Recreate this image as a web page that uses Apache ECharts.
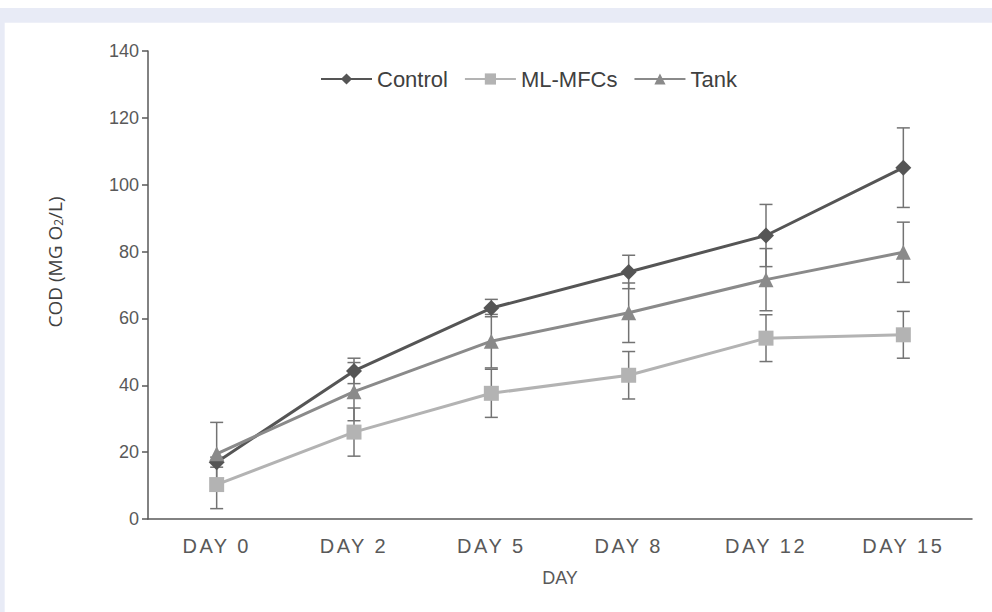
<!DOCTYPE html>
<html><head><meta charset="utf-8">
<script src="https://cdn.jsdelivr.net/npm/echarts@6/dist/echarts.min.js"></script>
<style>html,body{margin:0;padding:0;background:#fff}#c{width:992px;height:612px}</style>
</head><body><div id="c"></div>
<script>
// ---- data ----
const categories = ['DAY 0', 'DAY 2', 'DAY 5', 'DAY 8', 'DAY 12', 'DAY 15'];
const seriesNames = ['Control', 'ML-MFCs', 'Tank'];
const control    = [17.0, 44.3, 63.1, 73.9, 84.8, 105.1];
const controlErr = [1.5, 3.8, 2.6, 5.0, 9.3, 11.9];
const mlmfcs     = [10.3, 26.0, 37.6, 43.0, 54.1, 55.1];
const mlmfcsErr  = [7.2, 7.2, 7.2, 7.1, 7.0, 7.0];
const tank       = [19.5, 38.1, 53.2, 61.7, 71.6, 79.8];
const tankErr    = [9.4, 8.7, 8.0, 8.9, 9.3, 9.0];
const yTicks = [0, 20, 40, 60, 80, 100, 120, 140];

const chart = echarts.init(document.getElementById('c'), null, {renderer: 'svg', width: 992, height: 612});

function errData(vals, errs) { return vals.map((v, i) => [i, v - errs[i], v + errs[i]]); }
function errSeries(name, vals, errs) {
  return {
    type: 'custom', name: name + ' error', data: errData(vals, errs), z: 1, silent: true,
    encode: {x: 0, y: [1, 2]},
    renderItem(params, api) {
      const x = api.value(0);
      const lo = api.coord([x, api.value(1)]);
      const hi = api.coord([x, api.value(2)]);
      const hw = 6.5;
      const style = {stroke: '#737373', lineWidth: 1.5, fill: null};
      return {type: 'group', children: [
        {type: 'line', shape: {x1: lo[0], y1: lo[1], x2: hi[0], y2: hi[1]}, style},
        {type: 'line', shape: {x1: lo[0] - hw, y1: lo[1], x2: lo[0] + hw, y2: lo[1]}, style},
        {type: 'line', shape: {x1: hi[0] - hw, y1: hi[1], x2: hi[0] + hw, y2: hi[1]}, style}
      ]};
    }
  };
}
function lineSeries(name, vals, color, symbol, size) {
  return {
    type: 'line', name, data: vals, z: 3, symbol, symbolSize: size,
    lineStyle: {color, width: 3}, itemStyle: {color, borderWidth: 0},
    emphasis: {disabled: true}
  };
}
const axisColor = '#595959';
const font = 'Liberation Sans, Arial, sans-serif';

chart.setOption({
  animation: false,
  backgroundColor: '#ffffff',
  grid: {left: 148, right: 20, top: 51, bottom: 93, containLabel: false, outerBoundsMode: 'none'},
  legend: {
    data: seriesNames, left: 320, top: 68, padding: 0,
    itemWidth: 51, itemHeight: 14, itemGap: 16,
    textStyle: {fontSize: 22, color: '#404040', fontFamily: font}
  },
  xAxis: {
    type: 'category', data: categories, boundaryGap: true,
    axisLine: {lineStyle: {color: axisColor, width: 1.5}},
    axisTick: {alignWithLabel: true, length: 5, lineStyle: {color: axisColor, width: 1.5}},
    axisLabel: {fontSize: 20, color: axisColor, fontFamily: font, margin: 17},
    name: 'DAY', nameLocation: 'middle', nameGap: 50,
    nameTextStyle: {fontSize: 18, color: axisColor, fontFamily: font}
  },
  yAxis: {
    type: 'value', min: yTicks[0], max: yTicks[yTicks.length - 1], interval: yTicks[1] - yTicks[0],
    axisLine: {show: true, lineStyle: {color: axisColor, width: 1.5}},
    axisTick: {show: true, length: 6, lineStyle: {color: axisColor, width: 1.5}},
    axisLabel: {fontSize: 18, color: axisColor, fontFamily: font, margin: 9},
    splitLine: {show: false}
  },
  graphic: [
    {type: 'rect', silent: true, z: -10, shape: {x: 0, y: 8, width: 992, height: 14.7}, style: {fill: '#e8ebf6'}},
    {type: 'rect', silent: true, z: -10, shape: {x: 0, y: 8, width: 4.7, height: 604}, style: {fill: '#e8ebf6'}},
    {type: 'text', silent: true, x: 55, y: 262, rotation: Math.PI / 2,
     style: {text: 'COD (MG O{sub|2}/L)', fontSize: 19, fill: '#404040', fontFamily: 'Open Sans, sans-serif',
       align: 'center', verticalAlign: 'middle',
       rich: {sub: {fontSize: 12, fill: '#404040', fontFamily: 'Open Sans, sans-serif', verticalAlign: 'bottom', lineHeight: 12}}}}
  ],
  series: [
    errSeries('Control', control, controlErr),
    errSeries('ML-MFCs', mlmfcs, mlmfcsErr),
    errSeries('Tank', tank, tankErr),
    lineSeries('Control', control, '#555555', 'diamond', [16, 16]),
    lineSeries('ML-MFCs', mlmfcs, '#b3b3b3', 'rect', 15),
    lineSeries('Tank', tank, '#8a8a8a', 'triangle', 15)
  ]
});

function spaceLabels() {
  const texts = document.querySelectorAll('#c svg text');
  texts.forEach(t => {
    if (/^DAY \d+$/.test(t.textContent)) { t.style.letterSpacing = '2.5px'; }
  });
}
chart.on('finished', spaceLabels);
spaceLabels();
</script>
</body></html>
